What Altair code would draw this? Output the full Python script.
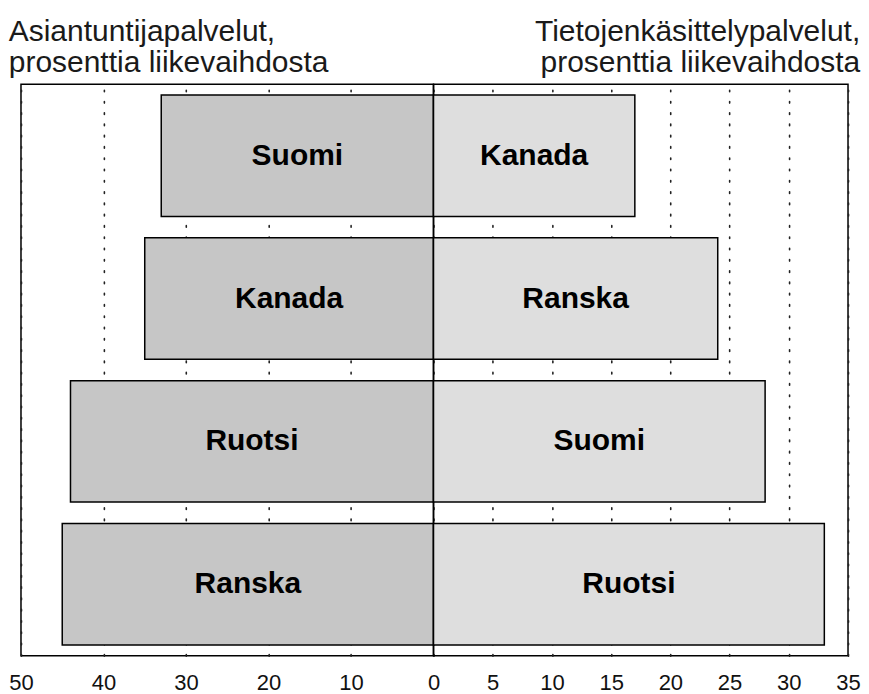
import altair as alt
import pandas as pd

# Left panel: Asiantuntijapalvelut (% of turnover), top to bottom
left_countries = ["Suomi", "Kanada", "Ruotsi", "Ranska"]
left_values = [33, 35, 44, 45]
# Right panel: Tietojenkäsittelypalvelut (% of turnover), top to bottom
right_countries = ["Kanada", "Ranska", "Suomi", "Ruotsi"]
right_values = [17, 24, 28, 33]

left_ticks = [50, 40, 30, 20, 10, 0]
right_ticks = [5, 10, 15, 20, 25, 30, 35]
left_title = ["Asiantuntijapalvelut,", "prosenttia liikevaihdosta"]
right_title = ["Tietojenkäsittelypalvelut,", "prosenttia liikevaihdosta"]

FONT = "Liberation Sans"


def panel(countries, values, domain, ticks, reverse, fill, title, anchor, width):
    df = pd.DataFrame({"maa": countries, "arvo": values})
    yscale = alt.Scale(paddingInner=0.15, paddingOuter=0.075)
    xscale = alt.Scale(domain=domain, reverse=reverse, nice=False, zero=True)
    xaxis = alt.Axis(
        values=ticks, grid=True, gridDash=[1.6, 9.7], gridColor="#222222",
        gridWidth=1.6, gridCap="round", ticks=False, tickSize=0, domain=False,
        labelFontSize=22, labelFont=FONT, labelColor="#111111", labelPadding=17,
        labelFlush=False, labelOverlap=False, title=None,
    )
    base = alt.Chart(df)
    bars = base.mark_bar(fill=fill, stroke="black", strokeWidth=1.5).encode(
        x=alt.X("arvo:Q", scale=xscale, axis=xaxis, title=None),
        y=alt.Y("maa:N", sort=countries, scale=yscale, axis=None),
    )
    labels = base.transform_calculate(mid="datum.arvo / 2").mark_text(
        font=FONT, fontSize=30, fontWeight="bold", color="black",
        align="center", baseline="middle",
    ).encode(
        x=alt.X("mid:Q", title=None),
        y=alt.Y("maa:N", sort=countries, axis=None),
        text="maa:N",
    )
    return alt.layer(bars, labels).properties(
        width=width, height=572,
        title=alt.TitleParams(
            text=title, anchor=anchor, fontSize=30, font=FONT,
            fontWeight="normal", lineHeight=31, offset=6, color="#1a1a1a",
        ),
    )


left = panel(left_countries, left_values, [0, 50], left_ticks, True,
             "#c6c6c6", left_title, "start", 413)
right = panel(right_countries, right_values, [0, 35], right_ticks, False,
              "#dedede", right_title, "end", 415)

chart = alt.hconcat(left, right, spacing=0, bounds="flush").configure_view(
    stroke="black", strokeWidth=1.5
).properties(padding={"left": 0, "top": 8, "right": 0, "bottom": 0})

chart.save("out.html", embed_options={"renderer": "svg", "actions": False})
